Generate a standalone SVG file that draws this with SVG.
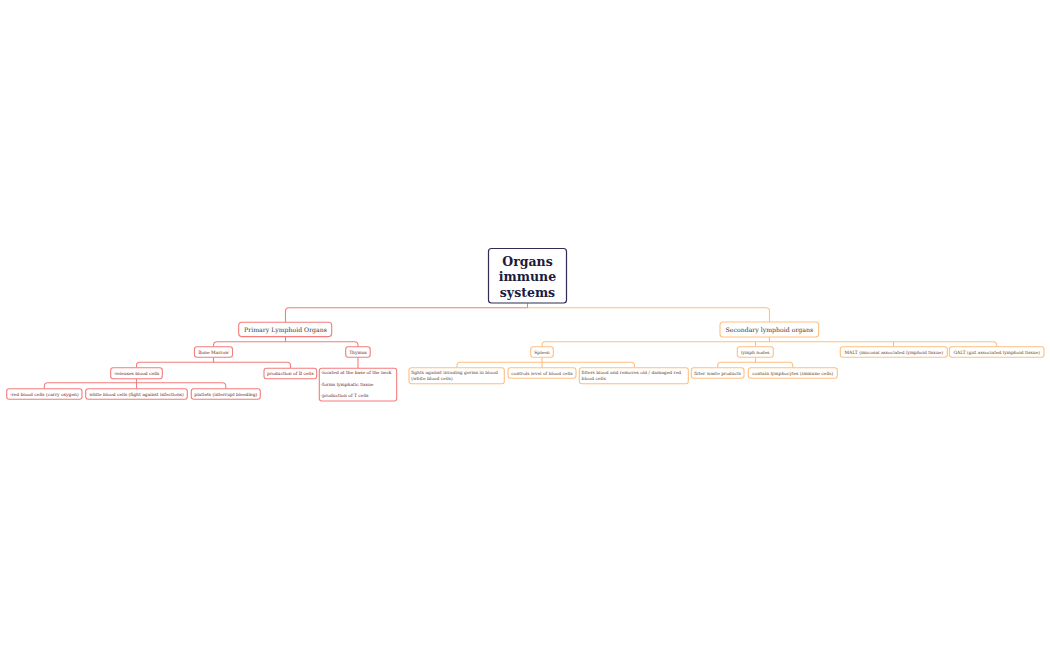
<svg xmlns="http://www.w3.org/2000/svg" width="1050" height="650" viewBox="0 0 1050 650">
<style>
text{font-family:"DejaVu Serif","Liberation Serif",serif}
.bg{fill:#ffffff}
.r{fill:#ffffff;stroke:#f47c7c;stroke-width:1.1}
.o{fill:#ffffff;stroke:#ffbf80;stroke-width:1.1}
.lr{fill:none;stroke:#f47c7c;stroke-width:1.1}
.lo{fill:none;stroke:#ffbf80;stroke-width:1.1}
.tr{fill:#642626;font-size:4.45px}
.to{fill:#5e3f22;font-size:4.45px}
.m{text-anchor:middle;dominant-baseline:central}
.s{dominant-baseline:central}
.h2{font-size:6.2px;fill:#383838}
</style>
<rect class="bg" x="0" y="0" width="1050" height="650"/>
<g id="connectors">
<path class="lr" d="M527.5,303.5 V307.7 H289 Q285.5,307.7 285.5,311 V322"/>
<path class="lo" d="M527.5,307.7 H766 Q769.5,307.7 769.5,311 V322"/>
<path class="lr" d="M285.5,337 V341.7 H217 Q213.5,341.7 213.5,345 V346.7"/>
<path class="lr" d="M285.5,341.7 H354.5 Q358,341.7 358,345 V346.7"/>
<path class="lr" d="M213.5,357.3 V362.3 H140 Q136.5,362.3 136.5,365.5 V367.7"/>
<path class="lr" d="M213.5,362.3 H287 Q290.5,362.3 290.5,365.5 V368.3"/>
<path class="lr" d="M136.5,378.7 V382.7 H47.8 Q44.3,382.7 44.3,386 V388.7"/>
<path class="lr" d="M136.5,382.7 V388.7"/>
<path class="lr" d="M136.5,382.7 H222.3 Q225.8,382.7 225.8,386 V388.7"/>
<path class="lr" d="M358,357.3 V368.3"/>
<path class="lo" d="M769.5,337 V341.7 H545.5 Q542,341.7 542,345 V346.7"/>
<path class="lo" d="M755.5,341.7 V346.7"/>
<path class="lo" d="M769.5,341.7 H993.2 Q996.7,341.7 996.7,345 V346.7"/>
<path class="lo" d="M893.5,341.7 V346.7"/>
<path class="lo" d="M542,357.3 V362.3 H460.5 Q457,362.3 457,365.5 V367.7"/>
<path class="lo" d="M542,362.3 V367.7"/>
<path class="lo" d="M542,362.3 H631 Q634.5,362.3 634.5,365.5 V367.7"/>
<path class="lo" d="M755.5,357.3 V362.3 H721.2 Q717.7,362.3 717.7,365.5 V367.7"/>
<path class="lo" d="M755.5,362.3 H789.3 Q792.8,362.3 792.8,365.5 V367.7"/>
</g>
<g id="root">
<rect x="488.5" y="248.5" width="78" height="54.5" rx="3" fill="#ffffff" stroke="#2e2d52" stroke-width="1.2"/>
<text x="527.5" y="265.5" text-anchor="middle" font-size="12.5" font-weight="bold" fill="#1c1b3d">Organs</text>
<text x="527.5" y="281" text-anchor="middle" font-size="12.5" font-weight="bold" fill="#1c1b3d">immune</text>
<text x="527.5" y="296.5" text-anchor="middle" font-size="12.5" font-weight="bold" fill="#1c1b3d">systems</text>
</g>
<g id="primary">
<rect class="r" x="238.7" y="322.2" width="93" height="14.4" rx="3"/>
<text class="tr h2 m" x="285.5" y="329.5">Primary Lymphoid Organs</text>
</g>
<g id="bone-marrow">
<rect class="r" x="194.5" y="346.7" width="38" height="10.6" rx="2.5"/>
<text class="tr m" x="213.5" y="352">Bone Marrow</text>
</g>
<g id="thymus">
<rect class="r" x="345.7" y="346.7" width="24.5" height="10.6" rx="2.5"/>
<text class="tr m" x="358" y="352">Thymus</text>
</g>
<g id="releases">
<rect class="r" x="110.7" y="367.7" width="51.6" height="11" rx="2.5"/>
<text class="tr m" x="136.5" y="373.2">-releases blood cells</text>
</g>
<g id="b-cells">
<rect class="r" x="264" y="368.3" width="52.7" height="10.4" rx="2.5"/>
<text class="tr m" x="290.4" y="373.5">production of B cells</text>
</g>
<g id="red-cells">
<rect class="r" x="6.7" y="388.7" width="75.3" height="10.6" rx="2.5"/>
<text class="tr m" x="44.3" y="394">-red blood cells (carry oxygen)</text>
</g>
<g id="white-cells">
<rect class="r" x="85.7" y="388.7" width="101.6" height="10.6" rx="2.5"/>
<text class="tr m" x="136.5" y="394">white blood cells (fight against infections)</text>
</g>
<g id="platlets">
<rect class="r" x="191.3" y="388.7" width="69" height="10.6" rx="2.5"/>
<text class="tr m" x="225.8" y="394">platlets (interrupt bleeding)</text>
</g>
<g id="thymus-info">
<rect class="r" x="319.3" y="368.3" width="77.4" height="32.7" rx="2.5"/>
<text class="tr s" x="320.8" y="372.7">-located at the base of the neck</text>
<text class="tr s" x="320.8" y="384">-forms lymphatic tissue</text>
<text class="tr s" x="320.8" y="395.2">-production of T cells</text>
</g>
<g id="secondary">
<rect class="o" x="720" y="322" width="98.7" height="15" rx="3"/>
<text class="to h2 m" x="769.4" y="329.5">Secondary lymphoid organs</text>
</g>
<g id="spleen">
<rect class="o" x="530.7" y="346.7" width="22.6" height="10.6" rx="2.5"/>
<text class="to m" x="542" y="352">Spleen</text>
</g>
<g id="lymph-nodes">
<rect class="o" x="737.3" y="346.7" width="36" height="10.6" rx="2.5"/>
<text class="to m" x="755.3" y="352">lymph nodes</text>
</g>
<g id="malt">
<rect class="o" x="840.3" y="346.7" width="107" height="10.6" rx="2.5"/>
<text class="to m" x="893.8" y="352">MALT (mucosal associated lymphoid tissue)</text>
</g>
<g id="galt">
<rect class="o" x="949.3" y="346.7" width="94.7" height="10.6" rx="2.5"/>
<text class="to m" x="996.7" y="352">GALT (gut associated lymphoid tissue)</text>
</g>
<g id="fights">
<rect class="o" x="409" y="367.7" width="95.3" height="16" rx="2.5"/>
<text class="to s" x="411.3" y="372.4">fights against invading germs in blood</text>
<text class="to s" x="411.3" y="378.2">(white blood cells)</text>
</g>
<g id="controls">
<rect class="o" x="508" y="367.7" width="68" height="10.6" rx="2.5"/>
<text class="to m" x="542" y="373">controls level of blood cells</text>
</g>
<g id="filters">
<rect class="o" x="579.3" y="367.7" width="109" height="16" rx="2.5"/>
<text class="to s" x="581.6" y="372.4">filters blood and removes old / damaged red</text>
<text class="to s" x="581.6" y="378.2">blood cells</text>
</g>
<g id="filter-waste">
<rect class="o" x="691.3" y="367.7" width="52.7" height="10.6" rx="2.5"/>
<text class="to m" x="717.7" y="373">filter waste products</text>
</g>
<g id="lymphocytes">
<rect class="o" x="748.3" y="367.7" width="89" height="10.6" rx="2.5"/>
<text class="to m" x="792.8" y="373">contain lymphocytes (immune cells)</text>
</g>
</svg>
